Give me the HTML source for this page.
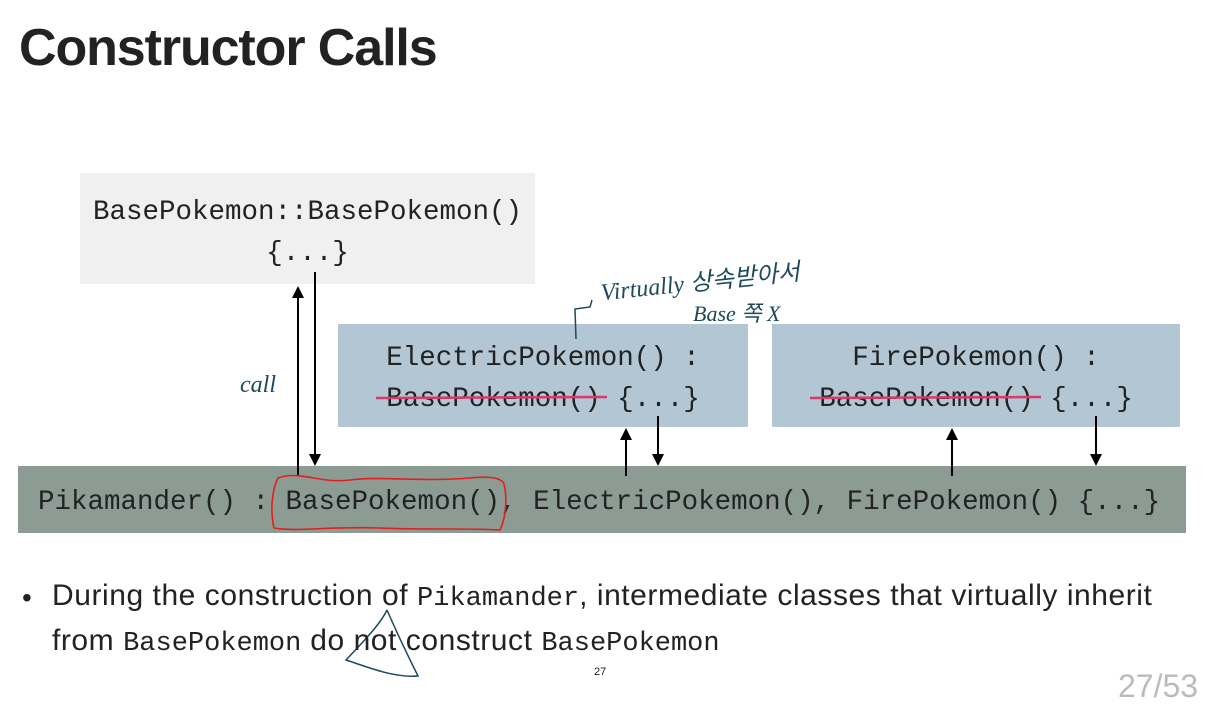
<!DOCTYPE html>
<html><head><meta charset="utf-8"><style>
body{margin:0;width:1212px;height:678px;background:#fff;position:relative;overflow:hidden;font-family:"Liberation Sans",sans-serif;color:#222}
.a{position:absolute}
.m{font-family:"Liberation Mono",monospace;font-size:27.5px;color:#222;white-space:pre;line-height:41px}
.hw{font-family:"Liberation Serif","Noto Sans CJK KR",serif;font-style:italic;color:#1d4a5a;position:absolute}
.bm{font-family:"Liberation Mono",monospace;font-size:27px;letter-spacing:0}
</style></head><body>
<div class="a" style="left:19px;top:18px;font-size:52px;font-weight:bold;letter-spacing:-1.1px;color:#222">Constructor Calls</div>

<div class="a" style="left:80px;top:173px;width:455px;height:111px;background:#f0f0f0"></div>
<div class="a m" style="left:80px;top:192px;width:455px;text-align:center">BasePokemon::BasePokemon()
{...}</div>

<div class="a" style="left:338px;top:324px;width:410px;height:103px;background:#b3c6d4"></div>
<div class="a m" style="left:338px;top:338px;width:410px;text-align:center">ElectricPokemon() :
BasePokemon() {...}</div>

<div class="a" style="left:772px;top:324px;width:408px;height:103px;background:#b3c6d4"></div>
<div class="a m" style="left:772px;top:338px;width:408px;text-align:center">FirePokemon() :
BasePokemon() {...}</div>

<div class="a" style="left:18px;top:466px;width:1168px;height:67px;background:#8c9c94"></div>
<div class="a m" style="left:38px;top:482px">Pikamander() : BasePokemon(), ElectricPokemon(), FirePokemon() {...}</div>

<svg class="a" style="left:0;top:0" width="1212" height="678">
<g stroke="#000" stroke-width="2" fill="none">
<line x1="298" y1="476" x2="298" y2="296"/>
<line x1="315" y1="272" x2="315" y2="456"/>
<line x1="626" y1="476" x2="626" y2="438"/>
<line x1="658" y1="416" x2="658" y2="456"/>
<line x1="952" y1="476" x2="952" y2="438"/>
<line x1="1096" y1="416" x2="1096" y2="456"/>
</g>
<g fill="#000">
<path d="M292,298 L304,298 L298,286 Z"/>
<path d="M309,454 L321,454 L315,466 Z"/>
<path d="M620,440 L632,440 L626,428 Z"/>
<path d="M652,454 L664,454 L658,466 Z"/>
<path d="M946,440 L958,440 L952,428 Z"/>
<path d="M1090,454 L1102,454 L1096,466 Z"/>
</g>
<g stroke="#d8396a" stroke-width="2.5">
<line x1="376" y1="398" x2="607" y2="397"/>
<line x1="810" y1="398" x2="1041" y2="397"/>
</g>
<path d="M278,478 C300,470 320,484 350,480 C380,476 420,482 470,478 C490,476 502,478 504,484 C508,500 505,520 500,530 C470,528 430,530 380,528 C330,526 300,532 274,528 C270,510 272,490 278,478 Z" stroke="#e02020" stroke-width="1.6" fill="none"/>
<g stroke="#1d4a5a" stroke-width="1.5" fill="none">
<path d="M576,339 L575,309 L590,307 L592,300"/>
<path d="M387,610 C380,625 360,645 346,660 C370,668 395,678 418,676 C410,660 400,640 387,610"/>
</g>
</svg>
<div class="hw" style="left:240px;top:372px;font-size:24px">call</div>
<div class="hw" style="left:600px;top:262px;font-size:24px;transform:rotate(-6deg)">Virtually 상속받아서</div>
<div class="hw" style="left:693px;top:296px;font-size:22px">Base 쪽 X</div>

<div class="a" style="left:22px;top:582px;font-size:28px;color:#222">•</div>
<div class="a" style="left:52px;top:575px;font-size:30px;line-height:42px;color:#222;letter-spacing:0.55px;white-space:nowrap">During the construction of <span class="bm">Pikamander</span>, intermediate classes that virtually inherit<br>from <span class="bm">BasePokemon</span> do not construct <span class="bm">BasePokemon</span></div>
<div class="a" style="left:594px;top:666px;font-size:11px;color:#222">27</div>
<div class="a" style="left:1118px;top:668px;font-size:32px;color:#bbb">27/53</div>
</body></html>
